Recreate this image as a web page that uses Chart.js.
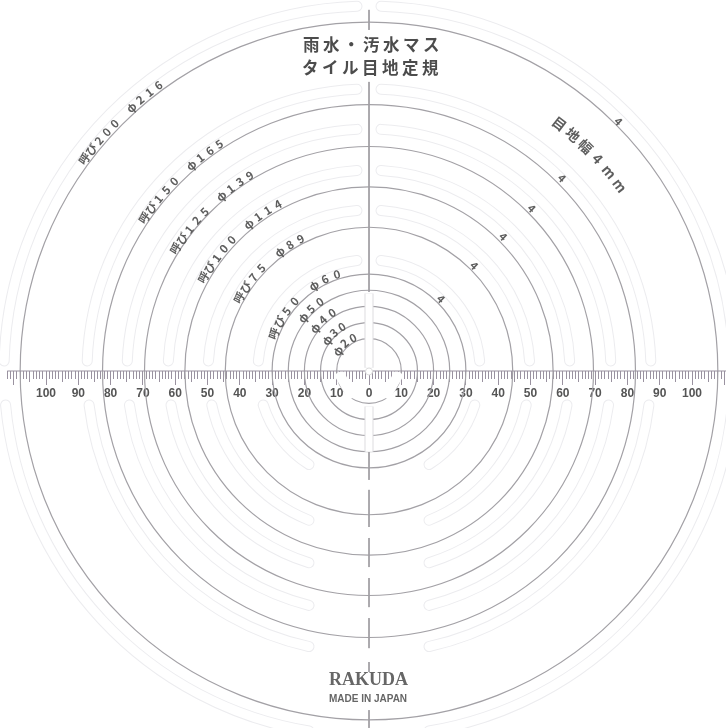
<!DOCTYPE html>
<html>
<head>
<meta charset="utf-8">
<title>雨水・汚水マス タイル目地定規</title>
<style>
html, body { margin: 0; padding: 0; background: #fff; }
canvas { display: block; filter: blur(0.45px); }
</style>
<script src="https://cdn.jsdelivr.net/npm/chart.js@4/dist/chart.umd.min.js"></script>
</head>
<body>
<canvas id="ruler" width="726" height="728"></canvas>
<script>
// all lengths in mm on the ruler
var pipeDiameters = [20, 30, 40, 50, 60, 89, 114, 139, 165, 216];
var slotRadii = [34.4, 49.8, 62.2, 74.9, 87.3, 113];
var rulerExtent = [-112, 111];
var centerLineTop = [111.8, 105.6, null, 89.5, 24.5];
var centerLineBottom = [-25.1, -33.7, null, -36.8, -48.3, null, -51.7, -60.7, null, -64.1, -73.1, null, -76.5, -85.8, null, -90.1, -93.2, null, -105, -110.5];
var slitTop = [24, 1];
var slitBottom = [-11, -25];

var titleLines = ['雨水・汚水マス', 'タイル目地定規'];
var sizeLabels = ['呼び200 φ216', '呼び150 φ165', '呼び125 φ139', '呼び100 φ114', '呼び75 φ89', '呼び50 φ60', 'φ50', 'φ40', 'φ30', 'φ20'];
var widthLabel = '目地幅4mm';
var widthMark = '4';
var brand = 'RAKUDA';
var origin = 'MADE IN JAPAN';

// text placing: [radius px, start angle, end angle], angles from +x, counterclockwise
var sizeLabelArcs = [
  [355, 143.3, 126.4], [272, 145.7, 123.4], [229, 147.6, 121.4], [190, 150.5, 118.7], [149, 150.5, 117.4],
  [102, 158.4, 108.4], [85, 141, 125.4], [69, 141.5, 122.5], [52, 143.6, 121.5], [37, 147.2, 116]
];
var widthLabelArc = [312, 52.4, 36.5];
var widthMarkRadii = [102, 149, 190, 230, 273, 353];

var MM = 3.23, CX = 369, CY = 371;
var xMin = -CX / MM, xMax = (726 - CX) / MM, yMin = -(728 - CY) / MM, yMax = CY / MM;

function vertical(list) {
  return list.map(function(v) { return { x: 0, y: v }; });
}

function rulerAxis(step, tickLength, showLabels) {
  return {
    type: 'linear', min: xMin, max: xMax, position: { y: 0 }, z: 1,
    afterFit: function(s) { s.height = 0; s.paddingLeft = 0; s.paddingRight = 0; },
    border: { display: false },
    grid: {
      drawOnChartArea: false, tickLength: tickLength, tickWidth: 1,
      tickColor: function(ctx) { return ctx.tick && ctx.tick.value < rulerExtent[0] ? 'transparent' : '#9a92a0'; }
    },
    ticks: {
      display: showLabels, stepSize: step, autoSkip: false, includeBounds: false, maxRotation: 0, minRotation: 0, padding: 1,
      color: '#555', font: { family: '"Liberation Sans Narrow", "Liberation Sans"', size: 12, weight: 'bold' },
      callback: function(v) { return Math.abs(v) > 100 ? '' : Math.abs(v); }
    }
  };
}

function arcText(ctx, text, arc) {
  var chars = Array.from(text), r = arc[0];
  chars.forEach(function(ch, i) {
    var deg = arc[1] + (arc[2] - arc[1]) * (chars.length > 1 ? i / (chars.length - 1) : 0);
    var t = deg * Math.PI / 180;
    ctx.save();
    ctx.translate(CX + r * Math.cos(t), CY - r * Math.sin(t));
    ctx.rotate(Math.PI / 2 - t);
    ctx.fillText(ch, 0, 0);
    ctx.restore();
  });
}

// capsule shaped cut-outs, a fat faint arc with a thinner white one on it
var slotsPlugin = {
  id: 'slots',
  beforeDatasetsDraw: function(chart) {
    var ctx = chart.ctx, sx = chart.scales.x, sy = chart.scales.y;
    var cx = sx.getPixelForValue(0), cy = sy.getPixelForValue(0);
    ctx.save();
    ctx.lineCap = 'round';
    slotRadii.forEach(function(mm) {
      var r = sx.getPixelForValue(mm) - cx;
      var sideUp = Math.asin(10 / r), sideDown = Math.asin(34 / r), top = Math.asin(12 / r), bottom = Math.asin(60 / r);
      var parts = [
        [-Math.PI / 2 + top, -sideUp], [-Math.PI + sideUp, -Math.PI / 2 - top],
        [sideDown, Math.PI / 2 - bottom], [Math.PI / 2 + bottom, Math.PI - sideDown]
      ];
      parts.forEach(function(p) {
        ctx.beginPath(); ctx.arc(cx, cy, r, p[0], p[1]);
        ctx.lineWidth = 11; ctx.strokeStyle = '#ececef'; ctx.stroke();
        ctx.beginPath(); ctx.arc(cx, cy, r, p[0], p[1]);
        ctx.lineWidth = 9; ctx.strokeStyle = '#fff'; ctx.stroke();
      });
    });
    ctx.restore();
  }
};

var textPlugin = {
  id: 'rulerText',
  afterDraw: function(chart) {
    var ctx = chart.ctx;
    ctx.save();
    ctx.textAlign = 'center';
    ctx.textBaseline = 'middle';

    // center hole
    ctx.beginPath(); ctx.arc(CX, CY + 0.5, 3.5, 0, Math.PI * 2);
    ctx.fillStyle = '#fff'; ctx.fill();
    ctx.strokeStyle = '#ddd'; ctx.lineWidth = 1; ctx.stroke();

    ctx.fillStyle = '#4c4c4c';
    ctx.font = 'bold 16.5px "Noto Sans CJK JP"';
    ctx.letterSpacing = '3.5px';
    ctx.fillText(titleLines[0], 373, 45);
    ctx.fillText(titleLines[1], 372, 68);
    ctx.letterSpacing = '0px';

    ctx.fillStyle = '#5e5e5e';
    ctx.font = 'bold 11.5px "Noto Sans CJK JP"';
    sizeLabels.forEach(function(t, i) { arcText(ctx, t, sizeLabelArcs[i]); });

    ctx.font = 'bold 14px "Noto Sans CJK JP"';
    arcText(ctx, widthLabel, widthLabelArc);

    ctx.font = 'bold 11px "Noto Sans CJK JP"';
    widthMarkRadii.forEach(function(r) { arcText(ctx, widthMark, [r, 45, 45]); });

    ctx.fillStyle = '#666';
    ctx.font = 'bold 18px "Liberation Serif"';
    ctx.fillText(brand, 368.5, 680);
    ctx.font = 'bold 10px "Liberation Sans Narrow", "Liberation Sans"';
    ctx.fillText(origin, 368, 699);
    ctx.restore();
  }
};

var circleSets = pipeDiameters.map(function(d) {
  return {
    type: 'bubble', order: 6, clip: false,
    data: [{ x: 0, y: 0, r: d / 2 * MM }],
    backgroundColor: 'transparent', borderColor: '#a3a1a6', borderWidth: 1.2
  };
});

function lineSet(points, color, width, order) {
  return {
    type: 'scatter', order: order, clip: false, showLine: true, spanGaps: false,
    data: points, borderColor: color, borderWidth: width, pointRadius: 0, borderCapStyle: 'butt'
  };
}

new Chart(document.getElementById('ruler'), {
  type: 'scatter',
  plugins: [slotsPlugin, textPlugin],
  data: {
    datasets: circleSets.concat([
      // lower side of the smallest circle is not printed
      lineSet([{ x: -9.5, y: -0.5 }, { x: -5, y: -8.3 }], '#fff', 10, 5),
      lineSet([{ x: 9.5, y: -0.5 }, { x: 5, y: -8.3 }], '#fff', 10, 5),
      lineSet(vertical(slitTop), '#dddcdf', 9, 4),
      lineSet(vertical(slitBottom), '#dddcdf', 9, 4),
      lineSet(vertical(slitTop), '#fff', 7, 3),
      lineSet(vertical(slitBottom), '#fff', 7, 3),
      lineSet(vertical(centerLineTop), '#a09ea3', 1, 2),
      lineSet(vertical(centerLineBottom), '#a09ea3', 1, 2),
      lineSet(rulerExtent.map(function(v) { return { x: v, y: 0 }; }), '#9a92a0', 1.2, 1)
    ])
  },
  options: {
    responsive: false,
    animation: false,
    events: [],
    layout: { padding: 0, autoPadding: false },
    plugins: { legend: { display: false }, tooltip: { enabled: false }, title: { display: false } },
    scales: {
      x: rulerAxis(1, 8, false),
      x5: rulerAxis(5, 11, false),
      x10: rulerAxis(10, 14, true),
      y: { type: 'linear', display: false, min: yMin, max: yMax }
    }
  }
});
</script>
</body>
</html>
